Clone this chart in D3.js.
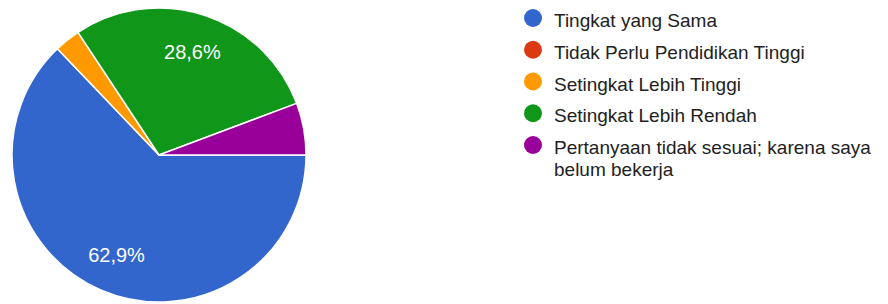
<!DOCTYPE html>
<html>
<head>
<meta charset="utf-8">
<script src="https://cdn.jsdelivr.net/npm/d3@7"></script>
<style>
	body{margin:0;background:#fff;}
	svg text{font-family:"Liberation Sans",Arial,sans-serif;}
</style>
</head>
<body>
<div id="chart"></div>
<script>
// jawaban (jumlah responden)
var categories = [
	"Tingkat yang Sama",
	"Tidak Perlu Pendidikan Tinggi",
	"Setingkat Lebih Tinggi",
	"Setingkat Lebih Rendah",
	"Pertanyaan tidak sesuai; karena saya belum bekerja"
];
var counts = [22, 0, 1, 10, 2];
var colors = ["#3366cc", "#dc3912", "#ff9900", "#109618", "#990099"];
// legend lines (wrapped like the original)
var legendLines = [
	["Tingkat yang Sama"],
	["Tidak Perlu Pendidikan Tinggi"],
	["Setingkat Lebih Tinggi"],
	["Setingkat Lebih Rendah"],
	["Pertanyaan tidak sesuai; karena saya", "belum bekerja"]
];

var W = 888, H = 304;
var cx = 159, cy = 155, R = 147;

var svg = d3.select("#chart").append("svg")
	.attr("width", W).attr("height", H);

var total = d3.sum(counts);
var rows = categories.map(function(c, i){ return {name:c, value:counts[i], color:colors[i]}; });

var pie = d3.pie()
	.sort(null)
	.value(function(d){ return d.value; })
	.startAngle(Math.PI/2)
	.endAngle(Math.PI/2 + 2*Math.PI);

var arc = d3.arc().innerRadius(0).outerRadius(R);
var labelArc = d3.arc().innerRadius(R*0.735).outerRadius(R*0.735);

var g = svg.append("g").attr("transform", "translate(" + cx + "," + cy + ")");

var arcs = pie(rows).filter(function(d){ return d.data.value > 0; });

g.selectAll("path.slice")
	.data(arcs)
	.enter().append("path")
	.attr("class", "slice")
	.attr("d", arc)
	.attr("fill", function(d){ return d.data.color; })
	.attr("stroke", "#fff")
	.attr("stroke-width", 1.5)
	.attr("stroke-linejoin", "round");

var fmt = function(v){
	return (v/total*100).toFixed(1).replace(".", ",") + "%";
};

g.selectAll("text.pct")
	.data(arcs.filter(function(d){ return d.data.value/total > 0.1; }))
	.enter().append("text")
	.attr("class", "pct")
	.attr("transform", function(d){ return "translate(" + labelArc.centroid(d) + ")"; })
	.attr("text-anchor", "middle")
	.attr("dy", "0.36em")
	.style("fill", "#fff")
	.style("font-size", "20px")
	.text(function(d){ return fmt(d.data.value); });

// legend
var legend = svg.append("g").attr("transform", "translate(533,0)");
var y = d3.scalePoint().domain(d3.range(categories.length)).range([18, 145]);

var item = legend.selectAll("g.item")
	.data(rows)
	.enter().append("g")
	.attr("class", "item")
	.attr("transform", function(d, i){ return "translate(0," + y(i) + ")"; });

item.append("circle")
	.attr("r", 9)
	.attr("fill", function(d){ return d.color; });

item.append("text")
	.attr("y", 9)
	.style("fill", "#222")
	.style("font-size", "19px")
	.each(function(d, i){
		var t = d3.select(this);
		legendLines[i].forEach(function(line, k){
			t.append("tspan")
				.attr("x", 21)
				.attr("dy", k === 0 ? 0 : 22)
				.text(line);
		});
	});
</script>
</body>
</html>
